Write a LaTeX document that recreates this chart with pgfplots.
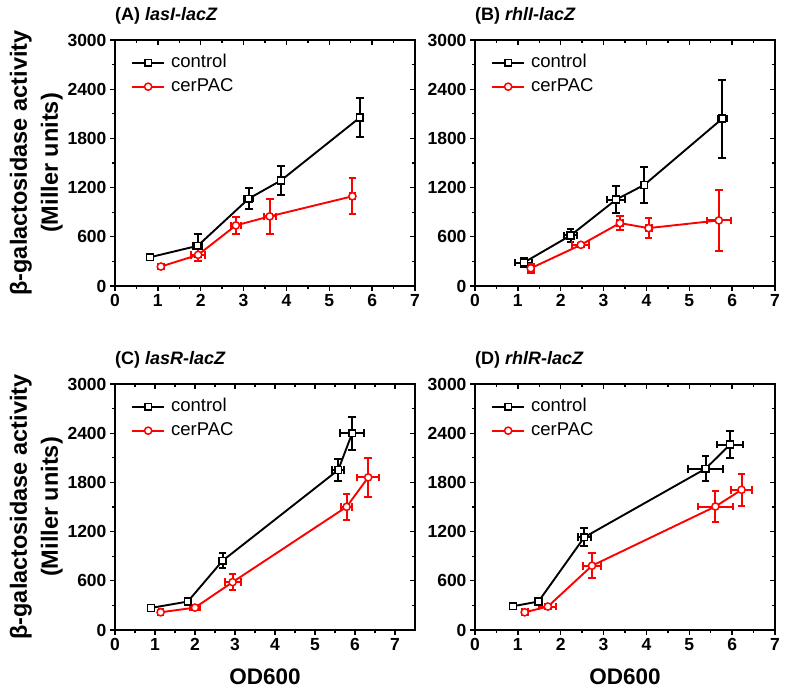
\documentclass[border=0pt]{standalone}
\usepackage{pgfplots}
\pgfplotsset{compat=1.18}
\usepackage{pgfplotstable}
\usepackage{fontspec}
\setmainfont{Liberation Sans}

% x y ex ey
\pgfplotstableread{
x y ex ey
0.82 351 0.05 20
1.93 490 0.10 140
3.12 1065 0.10 130
3.87 1286 0.05 175
5.71 2053 0.05 235
}\Actrl
\pgfplotstableread{
x y ex ey
1.07 237 0.05 30
1.94 380 0.17 70
2.82 739 0.11 100
3.61 849 0.14 210
5.54 1094 0.06 220
}\Acer
\pgfplotstableread{
x y ex ey
1.14 286 0.20 60
2.23 616 0.15 75
3.29 1053 0.20 165
3.95 1233 0.07 215
5.77 2041 0.10 475
}\Bctrl
\pgfplotstableread{
x y ex ey
1.30 216 0.07 55
2.47 502 0.20 25
3.38 767 0.07 90
4.05 706 0.07 120
5.69 800 0.28 375
}\Bcer
\pgfplotstableread{
x y ex ey
0.90 269 0.05 20
1.82 347 0.06 25
2.69 845 0.07 90
5.58 1951 0.15 130
5.93 2400 0.30 200
}\Cctrl
\pgfplotstableread{
x y ex ey
1.14 216 0.05 30
2.00 273 0.12 30
2.94 584 0.20 100
5.79 1502 0.13 155
6.33 1861 0.28 240
}\Ccer
\pgfplotstableread{
x y ex ey
0.89 290 0.05 20
1.48 347 0.07 40
2.55 1131 0.15 110
5.38 1967 0.40 155
5.95 2261 0.30 160
}\Dctrl
\pgfplotstableread{
x y ex ey
1.16 216 0.07 25
1.70 286 0.20 30
2.73 784 0.20 150
5.61 1506 0.40 195
6.22 1710 0.25 195
}\Dcer

\pgfplotsset{
  frame/.style={
    scale only axis, width=300pt, height=246pt, anchor=south west,
    xmin=0, xmax=7, ymin=0, ymax=3000,
    xtick={0,...,7}, ytick={0,600,...,3000},
    minor x tick num=1, minor y tick num=1,
    major tick length=5pt, minor tick length=3pt,
    axis line style={line width=1.6pt},
    every tick/.append style={line width=1.3pt, black},
    tick label style={font=\bfseries\fontsize{17.5}{18}\selectfont},
    /pgf/number format/assume math mode=true,
    /pgf/number format/1000 sep={},
  },
  panel/.style={
    frame, tick align=outside, xtick pos=left, ytick pos=left,
    title style={at={(axis description cs:0,1)}, anchor=base west,
      inner sep=0pt, yshift=13pt, font=\bfseries\fontsize{18}{18}\selectfont},
    ylabel style={at={(axis description cs:-0.262,0.5)}, anchor=center,
      align=center, font=\bfseries\fontsize{23.5}{31}\selectfont},
    xlabel style={at={(axis description cs:0.5,-0.191)}, anchor=center,
      font=\bfseries\fontsize{22.5}{23}\selectfont},
    legend style={at={(axis description cs:0,1)}, anchor=north west,
      xshift=16pt, yshift=-13pt, draw=none, fill=none, inner sep=0pt,
      row sep=5pt, column sep=5pt,
      nodes={inner sep=1pt, text height=13pt, text depth=4pt},
      font=\fontsize{18.5}{19}\selectfont},
    legend cell align=left,
    legend image code/.code={
      \draw[mark repeat=2, mark phase=2] plot coordinates {(0pt,0pt) (16pt,0pt) (32pt,0pt)};},
  },
  inner/.style={
    frame, tick align=inside, xtick pos=right, ytick pos=right,
    xticklabels={}, yticklabels={},
  },
  errs/.style={
    error bars/x dir=both, error bars/x explicit,
    error bars/y dir=both, error bars/y explicit,
    error bars/error bar style={line width=2pt},
    error bars/error mark options={rotate=90, mark size=3.8pt, line width=2pt},
  },
  ctrl/.style={black, line width=1.9pt, mark=square*,
    mark options={solid, fill=white, line width=1.5pt, mark size=3.4pt}, errs},
  cer/.style={red, line width=1.9pt, mark=*,
    mark options={solid, fill=white, line width=1.5pt, mark size=3.6pt}, errs},
}

\begin{document}
\begin{tikzpicture}
\useasboundingbox (0,0) rectangle (787pt,690pt);

% (A)
\begin{axis}[panel, at={(115pt,404pt)}, title={(A) \textit{lasI-lacZ}},
  ylabel={β-galactosidase activity\\(Miller units)}]
\addplot[ctrl] table[x=x, y=y, x error=ex, y error=ey] {\Actrl};
\addplot[cer] table[x=x, y=y, x error=ex, y error=ey] {\Acer};
\legend{control, cerPAC}
\end{axis}
\begin{axis}[inner, at={(115pt,404pt)}]
\end{axis}

% (B)
\begin{axis}[panel, at={(475pt,404pt)}, title={(B) \textit{rhlI-lacZ}}]
\addplot[ctrl] table[x=x, y=y, x error=ex, y error=ey] {\Bctrl};
\addplot[cer] table[x=x, y=y, x error=ex, y error=ey] {\Bcer};
\legend{control, cerPAC}
\end{axis}
\begin{axis}[inner, at={(475pt,404pt)}]
\end{axis}

% (C)
\begin{axis}[panel, at={(115pt,60pt)}, xmax=7.5, title={(C) \textit{lasR-lacZ}},
  ylabel={β-galactosidase activity\\(Miller units)}, xlabel={OD600}]
\addplot[ctrl] table[x=x, y=y, x error=ex, y error=ey] {\Cctrl};
\addplot[cer] table[x=x, y=y, x error=ex, y error=ey] {\Ccer};
\legend{control, cerPAC}
\end{axis}
\begin{axis}[inner, at={(115pt,60pt)}, xmax=7.5]
\end{axis}

% (D)
\begin{axis}[panel, at={(475pt,60pt)}, title={(D) \textit{rhlR-lacZ}}, xlabel={OD600}]
\addplot[ctrl] table[x=x, y=y, x error=ex, y error=ey] {\Dctrl};
\addplot[cer] table[x=x, y=y, x error=ex, y error=ey] {\Dcer};
\legend{control, cerPAC}
\end{axis}
\begin{axis}[inner, at={(475pt,60pt)}]
\end{axis}
\end{tikzpicture}
\end{document}
